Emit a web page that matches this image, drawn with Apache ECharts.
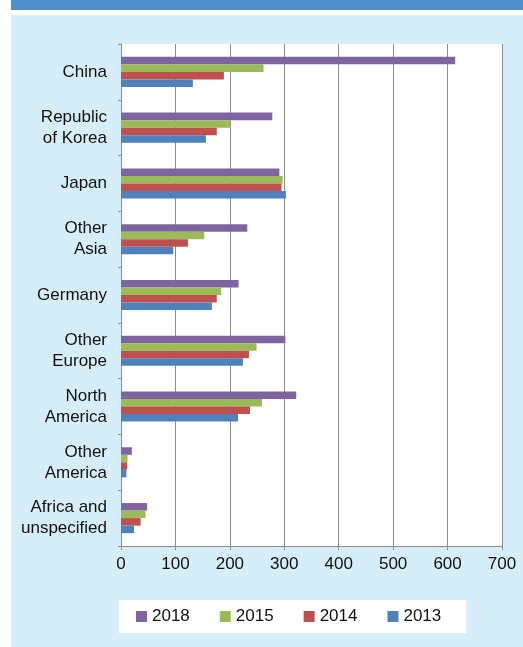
<!DOCTYPE html>
<html>
<head>
<meta charset="utf-8">
<script src="https://cdn.jsdelivr.net/npm/echarts@6/dist/echarts.min.js"></script>
<style>
  html, body { margin: 0; padding: 0; background: #fff; }
  #chart { width: 523px; height: 647px; }
</style>
</head>
<body>
<div id="chart"></div>
<script>
// 数据
const categories = [
  "China", "Republic\nof Korea", "Japan", "Other\nAsia", "Germany",
  "Other\nEurope", "North\nAmerica", "Other\nAmerica", "Africa and\nunspecified"
];
const years = ["2018", "2015", "2014", "2013"];
const v2018 = [614, 278, 291, 232, 216, 302, 322, 20, 48];
const v2015 = [262, 201, 297, 153, 184, 249, 259, 12, 45];
const v2014 = [189, 176, 295, 123, 176, 235, 237, 11, 36];
const v2013 = [132, 156, 303, 96, 167, 224, 215, 10, 24];
const xTicks = [0, 100, 200, 300, 400, 500, 600, 700];

const colors = ["#8064a2", "#9bbb59", "#c0504d", "#4f81bd"];
const FONT = "'Liberation Sans', Arial, sans-serif";
const FS = 17;
const TXT = "#111";
const seriesValues = [v2018, v2015, v2014, v2013];

const chart = echarts.init(document.getElementById("chart"));

chart.setOption({
  backgroundColor: "#fff",
  animation: false,
  color: colors,
  textStyle: { fontFamily: FONT },
  graphic: [
    // 顶部标题栏（被裁切）
    { type: "rect", shape: { x: 11, y: 0, width: 512, height: 10 }, style: { fill: "#4f8fcc" }, z: -10 },
    // 浅蓝背景
    { type: "rect", shape: { x: 11, y: 15, width: 512, height: 632 }, style: { fill: "#d6eef9" }, z: -10 },
  ],
  grid: {
    left: 121, right: 21, top: 44, bottom: 101,
    show: true, backgroundColor: "#fff", borderWidth: 0
  },
  legend: {
    data: years,
    left: 119, top: 600,
    backgroundColor: "#fff",
    padding: [8, 25, 8, 17],
    itemWidth: 11, itemHeight: 11, itemGap: 30,
    icon: "rect",
    textStyle: { fontFamily: FONT, fontSize: FS, color: TXT }
  },
  xAxis: {
    type: "value",
    min: xTicks[0], max: xTicks[xTicks.length - 1], interval: 100,
    axisLine: { show: true, lineStyle: { color: "#8c8c8c", width: 1 } },
    axisTick: { show: true, length: 4, lineStyle: { color: "#8c8c8c" } },
    splitLine: { show: true, lineStyle: { color: "#8c8c8c", width: 1 } },
    axisLabel: { fontFamily: FONT, fontSize: FS, color: TXT, margin: 10 }
  },
  yAxis: {
    type: "category",
    data: categories,
    inverse: true,
    axisLine: { show: true, lineStyle: { color: "#8c8c8c", width: 1 } },
    axisTick: { show: true, length: 3, lineStyle: { color: "#8c8c8c" } },
    axisLabel: { fontFamily: FONT, fontSize: FS, color: TXT, margin: 14, lineHeight: 21, align: "right" }
  },
  series: years.map((y, i) => ({
    name: y,
    type: "bar",
    data: seriesValues[i],
    barGap: "0%",
    barCategoryGap: "46%",
    itemStyle: { color: colors[i] }
  }))
});
</script>
</body>
</html>
